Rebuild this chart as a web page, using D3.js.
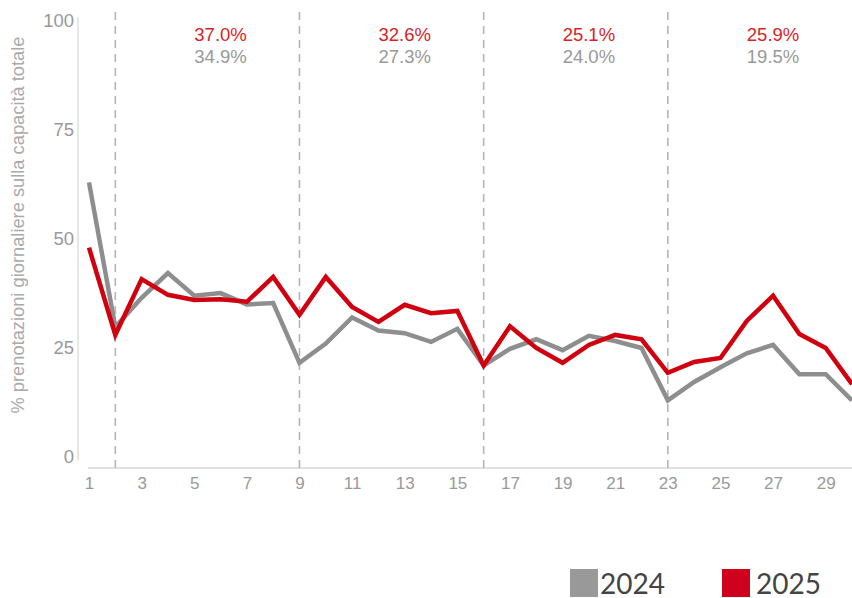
<!DOCTYPE html>
<html>
<head>
<meta charset="utf-8">
<script src="https://cdn.jsdelivr.net/npm/d3@7"></script>
<style>
  body { margin: 0; background: #fff; }
  svg { display: block; }
</style>
</head>
<body>
<svg id="chart" width="852" height="598"></svg>
<script>
// days of the month
var days = d3.range(1, 31);

var values2024 = [63, 29.8, 36.5, 42.2, 37, 37.6, 35, 35.3, 21.6, 26,
                  32, 29, 28.4, 26.4, 29.4, 21, 24.8, 27, 24.5, 27.8,
                  26.6, 25, 13, 17.2, 20.6, 23.8, 25.7, 19, 19, 13];

var values2025 = [48, 28, 40.8, 37.2, 36, 36.2, 35.6, 41.3, 32.6, 41.3,
                  34.4, 31, 34.9, 33, 33.5, 21, 30, 25, 21.6, 25.7,
                  28, 27, 19.3, 21.8, 22.7, 31.2, 37, 28.2, 25, 16.7];

// weekly averages shown on top
var weekDays = [6, 13, 20, 27];
var weekLabels2025 = ["37.0%", "32.6%", "25.1%", "25.9%"];
var weekLabels2024 = ["34.9%", "27.3%", "24.0%", "19.5%"];
var separators = [2, 9, 16, 23];

var yTicks = [0, 25, 50, 75, 100];
var xTicks = [1, 3, 5, 7, 9, 11, 13, 15, 17, 19, 21, 23, 25, 27, 29];

var svg = d3.select("#chart");

var x = d3.scaleLinear().domain([1, 30]).range([89, 852]);
var y = d3.scaleLinear().domain([0, 100]).range([457, 21]);

var gray = "#8e8e8e";
var red = "#d0000f";
var font = "'Liberation Sans', Arial, sans-serif";

// y axis
var yAxis = d3.axisLeft(y).tickValues(yTicks).tickSize(0).tickPadding(4);
var gy = svg.append("g").attr("transform", "translate(78,0)").call(yAxis);
gy.select(".domain").attr("stroke", "#cfcfcf").attr("d", "M0,17V460");
gy.selectAll("text")
  .attr("fill", "#999")
  .style("font-family", font)
  .style("font-size", "18.5px");

// x axis
var xAxis = d3.axisBottom(x).tickValues(xTicks).tickSize(0).tickPadding(9);
var gx = svg.append("g").attr("transform", "translate(0,468)").call(xAxis);
gx.select(".domain").attr("stroke", "#d6d6d6").attr("stroke-width", 1.5).attr("d", "M88,0H852");
gx.selectAll("text")
  .attr("fill", "#999")
  .style("font-family", font)
  .style("font-size", "17px");

// y title
svg.append("text")
  .attr("transform", "translate(24,225) rotate(-90)")
  .attr("text-anchor", "middle")
  .attr("fill", "#aaa")
  .style("font-family", font)
  .style("font-size", "18.3px")
  .text("% prenotazioni giornaliere sulla capacità totale");

// week separators
svg.selectAll(".sep")
  .data(separators)
  .enter().append("line")
  .attr("x1", function (d) { return x(d); })
  .attr("x2", function (d) { return x(d); })
  .attr("y1", 12)
  .attr("y2", 468)
  .attr("stroke", "#b5b5b5")
  .attr("stroke-width", 1.6)
  .attr("stroke-dasharray", "8,6");

// lines
var line = d3.line()
  .x(function (d, i) { return x(days[i]); })
  .y(function (d) { return y(d); });

svg.append("path")
  .datum(values2024)
  .attr("fill", "none")
  .attr("stroke", gray)
  .attr("stroke-width", 4.5)
  .attr("d", line);

svg.append("path")
  .datum(values2025)
  .attr("fill", "none")
  .attr("stroke", red)
  .attr("stroke-width", 4.5)
  .attr("d", line);

// weekly labels
svg.selectAll(".lab25")
  .data(weekLabels2025)
  .enter().append("text")
  .attr("x", function (d, i) { return x(weekDays[i]); })
  .attr("y", 41)
  .attr("text-anchor", "middle")
  .attr("fill", "#d81e27")
  .style("font-family", font)
  .style("font-size", "18.5px")
  .text(function (d) { return d; });

svg.selectAll(".lab24")
  .data(weekLabels2024)
  .enter().append("text")
  .attr("x", function (d, i) { return x(weekDays[i]); })
  .attr("y", 63)
  .attr("text-anchor", "middle")
  .attr("fill", "#999")
  .style("font-family", font)
  .style("font-size", "18.5px")
  .text(function (d) { return d; });

// legend
var legend = [
  { name: "2024", color: "#999999", x: 570, gap: 30 },
  { name: "2025", color: "#d0021b", x: 722, gap: 34 }
];
var lg = svg.selectAll(".leg").data(legend).enter().append("g")
  .attr("transform", function (d) { return "translate(" + d.x + ",569)"; });
lg.append("rect")
  .attr("width", 28)
  .attr("height", 28)
  .attr("fill", function (d) { return d.color; });
lg.append("text")
  .attr("x", function (d) { return d.gap; })
  .attr("y", 24.5)
  .attr("fill", "#444")
  .style("font-family", "Lato, sans-serif")
  .style("font-size", "28px")
  .text(function (d) { return d.name; });
</script>
</body>
</html>
